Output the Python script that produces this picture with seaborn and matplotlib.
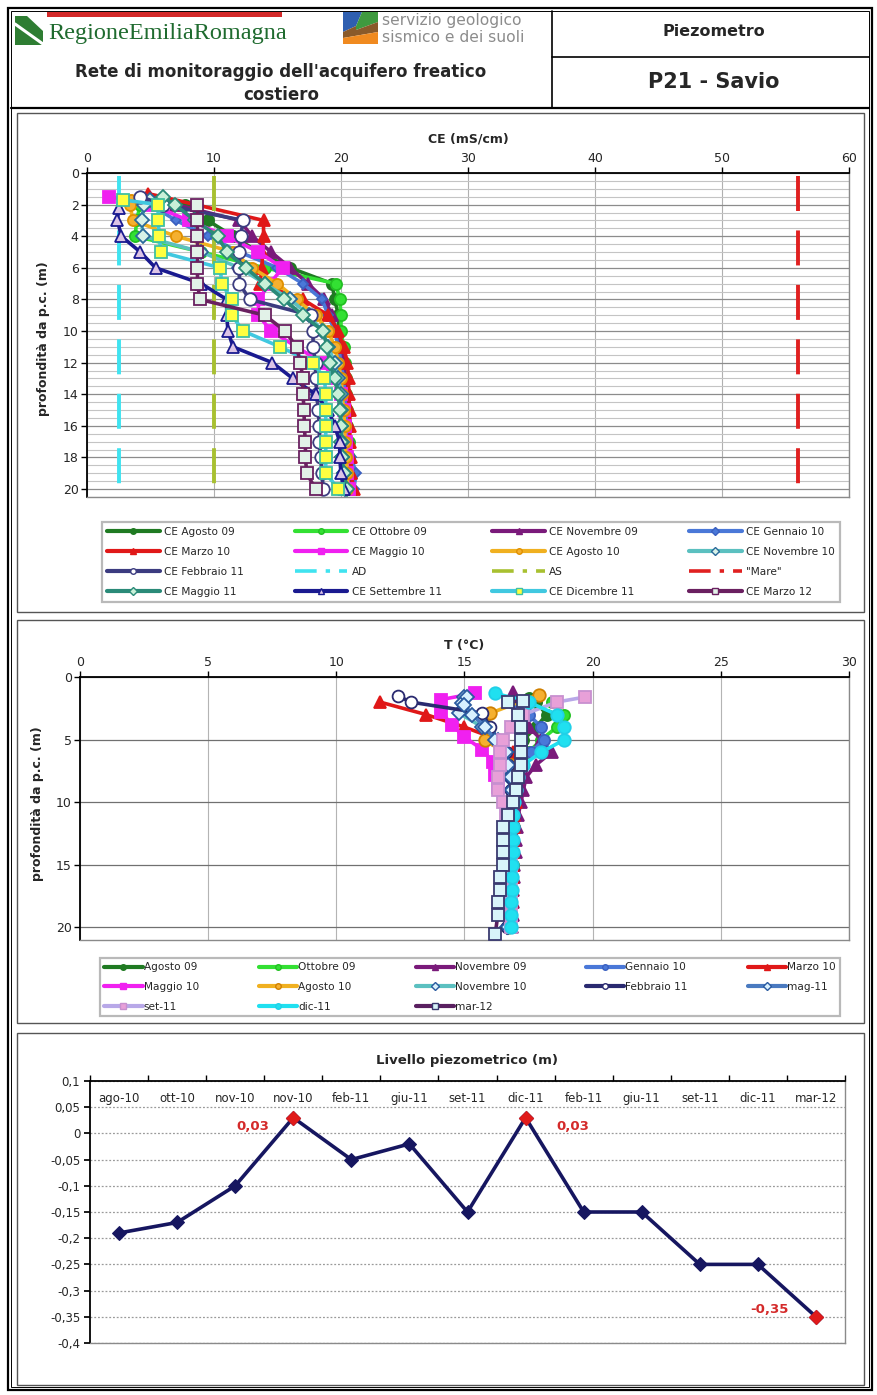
import numpy as np
import matplotlib
matplotlib.use("Agg")
import matplotlib.pyplot as plt
import seaborn as sns
from matplotlib.lines import Line2D
from matplotlib.patches import Rectangle, Polygon
from matplotlib.ticker import MultipleLocator, FuncFormatter

sns.set_theme(style="white")
plt.rcParams["font.family"] = ["DejaVu Sans"]

# ---------------------------------------------------------------- data
# Electrical conductivity profiles (mS/cm) versus depth (m)
CE_LABELS = ["CE Agosto 09", "CE Ottobre 09", "CE Novembre 09", "CE Gennaio 10",
             "CE Marzo 10", "CE Maggio 10", "CE Agosto 10", "CE Novembre 10",
             "CE Febbraio 11", "AD", "AS", '"Mare"',
             "CE Maggio 11", "CE Settembre 11", "CE Dicembre 11", "CE Marzo 12"]

ce_agosto09_d = [2, 3, 4, 5, 6, 7, 8, 9, 10, 11, 12, 13, 14, 15, 16, 17, 18, 19, 20]
ce_agosto09 = [7.7, 9.5, 11.5, 13.5, 16.0, 19.3, 19.5, 19.8, 19.8, 20.0, 20.1, 20.2, 20.3, 20.3, 20.4, 20.4, 20.5, 20.5, 20.6]
ce_ottobre09_d = [1.7, 2, 3, 4, 5, 6, 7, 8, 9, 10, 11, 12, 13, 14, 15, 16, 17, 18, 19, 20]
ce_ottobre09 = [4.5, 4.2, 3.9, 3.8, 9.0, 14.0, 19.6, 19.9, 20.0, 20.0, 20.2, 20.3, 20.4, 20.4, 20.5, 20.5, 20.6, 20.6, 20.7, 20.7]
ce_novembre09_d = [1.5, 2, 3, 4, 5, 6, 7, 8, 9, 10, 11, 12, 13, 14, 15, 16, 17, 18, 19, 20]
ce_novembre09 = [5.0, 7.0, 12.0, 13.0, 14.5, 16.0, 17.4, 18.7, 19.3, 19.6, 20.0, 20.2, 20.3, 20.4, 20.5, 20.5, 20.6, 20.7, 20.8, 20.8]
ce_gennaio10_d = [1.7, 2, 3, 4, 5, 6, 7, 8, 9, 10, 11, 12, 13, 14, 15, 16, 17, 18, 19, 20]
ce_gennaio10 = [4.5, 5.0, 7.0, 9.5, 12.0, 15.0, 17.0, 18.5, 19.0, 19.5, 19.8, 20.0, 20.2, 20.3, 20.4, 20.5, 20.6, 20.8, 21.2, 21.0]
ce_marzo10_d = [1.3, 3, 4, 5, 6, 7, 8, 9, 10, 11, 12, 13, 14, 15, 16, 17, 18, 19, 20]
ce_marzo10 = [4.8, 13.9, 13.9, 13.8, 13.8, 13.6, 17.0, 19.0, 19.8, 20.2, 20.5, 20.6, 20.6, 20.7, 20.7, 20.7, 20.8, 20.8, 21.0]
ce_maggio10_d = [1.5, 2, 3, 4, 5, 6, 7, 8, 9, 10, 11, 12, 13, 14, 15, 16, 17, 18, 19, 20]
ce_maggio10 = [1.7, 5.0, 8.0, 11.0, 13.5, 15.4, 14.4, 13.5, 13.5, 14.5, 16.5, 18.5, 19.5, 20.0, 20.2, 20.3, 20.4, 20.5, 20.5, 20.6]
ce_agosto10_d = [1.7, 2, 3, 4, 5, 6, 7, 8, 9, 10, 11, 12, 13, 14, 15, 16, 17, 18, 19, 20]
ce_agosto10 = [3.5, 3.4, 3.6, 7.0, 11.5, 13.0, 15.0, 16.5, 18.0, 19.0, 19.5, 19.8, 20.0, 20.1, 20.2, 20.3, 20.3, 20.4, 20.5, 20.5]
ce_novembre10_d = [1.7, 2, 3, 4, 5, 6, 7, 8, 9, 10, 11, 12, 13, 14, 15, 16, 17, 18, 19, 20]
ce_novembre10 = [5.0, 4.5, 4.3, 4.4, 9.0, 12.0, 14.0, 16.0, 17.5, 18.5, 19.0, 19.5, 19.8, 20.0, 20.0, 20.0, 20.1, 20.1, 20.2, 20.3]
ce_febbraio11_d = [1.5, 2, 3, 4, 5, 6, 7, 8, 9, 10, 11, 12, 13, 14, 15, 16, 17, 18, 19, 20]
ce_febbraio11 = [4.2, 6.0, 12.3, 12.1, 12.0, 12.0, 12.0, 12.8, 17.6, 17.8, 17.8, 18.0, 18.0, 18.1, 18.2, 18.3, 18.3, 18.4, 18.5, 18.6]
ce_maggio11_d = [1.5, 2, 3, 4, 5, 6, 7, 8, 9, 10, 11, 12, 13, 14, 15, 16, 17, 18, 19, 20]
ce_maggio11 = [6.0, 6.9, 8.5, 10.3, 11.0, 12.5, 14.0, 15.5, 17.0, 18.6, 18.9, 19.1, 19.5, 19.8, 19.9, 20.0, 20.0, 20.1, 20.2, 20.5]
ce_settembre11_d = [2.2, 3, 4, 5, 6, 7, 8, 9, 10, 11, 12, 13, 14, 15, 16, 17, 18, 19, 20]
ce_settembre11 = [2.5, 2.4, 2.7, 4.2, 5.4, 9.0, 11.0, 11.0, 11.1, 11.5, 14.6, 16.2, 18.0, 19.0, 19.5, 19.9, 19.9, 20.0, 20.2]
ce_dicembre11_d = [1.7, 2, 3, 4, 5, 6, 7, 8, 9, 10, 11, 12, 13, 14, 15, 16, 17, 18, 19, 20]
ce_dicembre11 = [2.8, 5.6, 5.6, 5.7, 5.8, 10.5, 10.6, 11.4, 11.4, 12.3, 15.2, 17.8, 18.7, 18.8, 18.8, 18.8, 18.8, 18.8, 18.8, 19.8]
ce_marzo12_d = [2, 3, 4, 5, 6, 7, 8, 9, 10, 11, 12, 13, 14, 15, 16, 17, 18, 19, 20]
ce_marzo12 = [8.7, 8.7, 8.7, 8.7, 8.7, 8.7, 8.9, 14.0, 15.6, 16.5, 16.8, 17.0, 17.0, 17.1, 17.1, 17.2, 17.2, 17.3, 18.0]

# Reference conductivities (mS/cm) and the depth span they are drawn over
AD_VALUE = 2.5
AS_VALUE = 10.0
MARE_VALUE = 56.0
REF_DEPTHS = [0.2, 20.4]

# Temperature profiles (°C) versus depth (m)
T_LABELS = ["Agosto 09", "Ottobre 09", "Novembre 09", "Gennaio 10", "Marzo 10",
            "Maggio 10", "Agosto 10", "Novembre 10", "Febbraio 11", "mag-11",
            "set-11", "dic-11", "mar-12"]

t_agosto09_d = [1.7, 2, 3, 4, 5, 6, 7, 8, 9, 10, 11, 12, 13, 14, 15, 16, 17, 18, 19, 20]
t_agosto09 = [17.5, 17.8, 18.2, 17.8, 17.3, 17.1, 17.0, 17.0, 17.0, 17.0, 16.95, 16.95, 16.9, 16.9, 16.9, 16.85, 16.85, 16.8, 16.8, 16.8]
t_ottobre09_d = [2, 3, 4, 5, 6, 7, 8, 9, 10, 11, 12, 13, 14, 15, 16, 17, 18, 19, 20]
t_ottobre09 = [18.4, 18.9, 18.6, 18.0, 17.5, 17.2, 17.1, 17.0, 17.0, 16.95, 16.9, 16.9, 16.9, 16.85, 16.85, 16.8, 16.8, 16.8, 16.8]
t_novembre09_d = [1.2, 2, 3, 4, 5, 6, 7, 8, 9, 10, 11, 12, 13, 14, 15, 16, 17, 18, 19, 20]
t_novembre09 = [16.9, 17.0, 17.2, 17.5, 18.0, 18.4, 17.8, 17.4, 17.3, 17.2, 17.1, 17.05, 17.0, 17.0, 16.95, 16.95, 16.9, 16.9, 16.9, 16.85]
t_gennaio10_d = [2, 3, 4, 5, 6, 7, 8, 9, 10, 11, 12, 13, 14, 15, 16, 17, 18, 19, 20]
t_gennaio10 = [17.0, 17.5, 18.0, 18.1, 17.6, 17.2, 17.1, 17.0, 16.95, 16.9, 16.9, 16.9, 16.85, 16.85, 16.8, 16.8, 16.8, 16.8, 16.8]
t_marzo10_d = [2, 3, 4, 5, 6, 7, 8, 9, 10, 11, 12, 13, 14, 15, 16, 17, 18, 19, 20]
t_marzo10 = [11.7, 13.5, 15.0, 16.3, 16.9, 17.0, 17.0, 17.0, 17.0, 16.95, 16.95, 16.9, 16.9, 16.9, 16.9, 16.85, 16.85, 16.8, 16.8]
t_maggio10_d = [1.3, 1.8, 2.8, 3.8, 4.8, 5.8, 6.8, 7.8, 8.8]
t_maggio10 = [15.4, 14.1, 14.1, 14.5, 15.0, 15.7, 16.1, 16.2, 16.3]
t_agosto10_d = [1.4, 2.9, 4, 5, 6, 7, 8, 9, 10, 11, 12, 13, 14, 15, 16, 17, 18, 19, 20]
t_agosto10 = [17.9, 16.0, 15.9, 15.8, 16.5, 16.8, 16.9, 16.9, 16.9, 16.85, 16.85, 16.8, 16.8, 16.8, 16.75, 16.75, 16.7, 16.7, 16.7]
t_novembre10_d = [1.6, 2.1, 2.9, 4, 5, 6, 7, 8, 9, 10, 11, 12, 13, 14, 15, 16, 17, 18, 19, 20]
t_novembre10 = [15.0, 14.9, 14.8, 15.7, 16.3, 16.6, 16.7, 16.75, 16.8, 16.8, 16.8, 16.8, 16.75, 16.75, 16.75, 16.7, 16.7, 16.7, 16.65, 16.65]
t_febbraio11_d = [1.5, 2, 2.9, 4, 5, 6, 7, 8, 9, 10, 11, 12, 13, 14, 15, 16, 17, 18, 19, 20]
t_febbraio11 = [12.4, 12.9, 15.7, 16.0, 16.3, 16.6, 16.7, 16.8, 16.8, 16.8, 16.8, 16.8, 16.8, 16.75, 16.75, 16.7, 16.7, 16.7, 16.7, 16.65]
t_mag11_d = [1.6, 2.2, 3, 4, 5, 6, 7, 8, 9, 10, 11, 12, 13, 14, 15, 16, 17, 18, 19, 20]
t_mag11 = [15.1, 15.0, 15.3, 15.8, 16.2, 16.6, 16.7, 16.8, 16.85, 16.85, 16.85, 16.85, 16.8, 16.8, 16.8, 16.8, 16.75, 16.75, 16.7, 16.7]
t_set11_d = [1.6, 2, 3, 4, 5, 6, 7, 8, 9, 10, 11, 12, 13, 14, 15, 16, 17, 18, 19, 20]
t_set11 = [19.7, 18.6, 17.3, 16.8, 16.5, 16.4, 16.4, 16.3, 16.3, 16.5, 16.6, 16.7, 16.75, 16.75, 16.8, 16.8, 16.8, 16.8, 16.8, 16.8]
t_dic11_d = [1.3, 2, 3, 4, 5, 6, 7, 8, 9, 10, 11, 12, 13, 14, 15, 16, 17, 18, 19, 20]
t_dic11 = [16.2, 17.5, 18.6, 18.9, 18.9, 18.0, 17.3, 17.1, 17.0, 16.95, 16.9, 16.9, 16.9, 16.9, 16.85, 16.85, 16.85, 16.8, 16.8, 16.8]
t_mar12_d = [1.9, 2, 3, 4, 5, 6, 7, 8, 9, 10, 11, 12, 13, 14, 15, 16, 17, 18, 19, 20.5]
t_mar12 = [17.3, 16.7, 17.1, 17.2, 17.2, 17.2, 17.2, 17.1, 17.0, 16.9, 16.7, 16.5, 16.5, 16.5, 16.5, 16.4, 16.4, 16.3, 16.3, 16.2]

# Piezometric level (m)
LEVEL_DATES = ["ago-10", "ott-10", "nov-10", "nov-10", "feb-11", "giu-11", "set-11",
               "dic-11", "feb-11", "giu-11", "set-11", "dic-11", "mar-12"]
LEVEL_VALUES = [-0.19, -0.17, -0.10, 0.03, -0.05, -0.02, -0.15, 0.03, -0.15, -0.15,
                -0.25, -0.25, -0.35]

# ---------------------------------------------------------------- styles
# (line colour, marker, marker face, marker edge, marker size)
CE_STYLE = {
    "CE Agosto 09": ("#1f7a22", "o", "#1f7a22", "#1f7a22", 8),
    "CE Ottobre 09": ("#33e033", "o", "#33e033", "#22c022", 8),
    "CE Novembre 09": ("#7a1a7a", "^", "#7a1a7a", "#7a1a7a", 8),
    "CE Gennaio 10": ("#4a78d8", "D", "#4a78d8", "#3a60c0", 5.5),
    "CE Marzo 10": ("#e01818", "^", "#e01818", "#e01818", 8.5),
    "CE Maggio 10": ("#f020f0", "s", "#f020f0", "#f020f0", 8.5),
    "CE Agosto 10": ("#f0b020", "o", "#f5b030", "#e09000", 8),
    "CE Novembre 10": ("#5bc0c0", "D", "#d8f2e8", "#2a6a9a", 7),
    "CE Febbraio 11": ("#3c3c80", "o", "#ffffff", "#3c3c80", 9),
    "CE Maggio 11": ("#2a8a78", "D", "#c8f0d8", "#2a8a78", 7.5),
    "CE Settembre 11": ("#1a1a90", "^", "#dcc4e6", "#1a1a90", 9),
    "CE Dicembre 11": ("#40c8e0", "s", "#ffff40", "#40c0a0", 9),
    "CE Marzo 12": ("#6a2060", "s", "#e2f2e8", "#6a2060", 9),
}
REF_STYLE = {"AD": "#3fe3f0", "AS": "#a8c030", '"Mare"': "#e02020"}

T_STYLE = {
    "Agosto 09": ("#1f7a22", "o", "#1f7a22", "#1f7a22", 8),
    "Ottobre 09": ("#33e033", "o", "#33e033", "#22c022", 8),
    "Novembre 09": ("#7a1a7a", "^", "#7a1a7a", "#7a1a7a", 8),
    "Gennaio 10": ("#4a78d8", "o", "#4a78d8", "#3a60c0", 8),
    "Marzo 10": ("#e01818", "^", "#e01818", "#e01818", 8.5),
    "Maggio 10": ("#f020f0", "s", "#f020f0", "#f020f0", 9),
    "Agosto 10": ("#f0b020", "o", "#f5b030", "#d08000", 9),
    "Novembre 10": ("#5bc0c0", "D", "#d8f0fa", "#2a5aa0", 7.5),
    "Febbraio 11": ("#2a2a70", "o", "#ffffff", "#2a2a70", 8.5),
    "mag-11": ("#4a7ac0", "D", "#d8f0ff", "#2a5aa0", 7.5),
    "set-11": ("#b8a8e8", "s", "#e8a0d8", "#c890d0", 9),
    "dic-11": ("#20e0f0", "o", "#20e0f0", "#20d0e8", 9),
    "mar-12": ("#5a2060", "s", "#d8f4fa", "#3a3a70", 9),
}

W, H = 878, 1395
fig = plt.figure(figsize=(W / 100, H / 100), dpi=100)
fig.patch.set_facecolor("white")


def px_axes(x0, y0, x1, y1, z=1):
    return fig.add_axes([x0 / W, 1 - y1 / H, (x1 - x0) / W, (y1 - y0) / H], zorder=z)


def px_box(x0, y0, x1, y1):
    return (x0 / W, 1 - y1 / H, (x1 - x0) / W, (y1 - y0) / H)


# ---------------------------------------------------------------- page frame
bg = px_axes(0, 0, W, H, z=0)
bg.set_xlim(0, W)
bg.set_ylim(H, 0)
bg.axis("off")

bg.add_patch(Rectangle((8, 8), 864, 1382, fill=False, ec="black", lw=1.6))
bg.add_patch(Rectangle((11, 11), 858, 1376, fill=False, ec="black", lw=0.7))
bg.plot([552, 552], [11, 108], color="black", lw=1.2)
bg.plot([552, 869], [57, 57], color="black", lw=1.2)
bg.plot([11, 869], [108, 108], color="black", lw=1.6)
for (x0, y0, x1, y1) in [(17, 113, 864, 612), (17, 620, 864, 1023), (17, 1033, 864, 1385)]:
    bg.add_patch(Rectangle((x0, y0), x1 - x0, y1 - y0, fill=False, ec="#555555", lw=1.0))

# Regione Emilia-Romagna logo
bg.add_patch(Rectangle((47, 12), 235, 5, color="#d42a2a", lw=0))
bg.add_patch(Polygon([(15, 16), (27, 16), (43, 31), (43, 45), (15, 45)], closed=True,
                     color="#2e7d32", lw=0))
bg.plot([15, 43], [24, 44], color="white", lw=2.2)
bg.text(48, 34, "RegioneEmiliaRomagna", family="Liberation Serif", fontsize=17.5,
        color="#1f6b2f", va="center", ha="left")

# Geological survey logo
bg.add_patch(Polygon([(343, 12), (362, 12), (356, 26), (343, 32)], closed=True, color="#2f5fb0", lw=0))
bg.add_patch(Polygon([(362, 12), (378, 12), (378, 22), (356, 30), (356, 26)], closed=True, color="#3f9a3f", lw=0))
bg.add_patch(Polygon([(343, 32), (356, 26), (356, 30), (378, 22), (378, 32), (343, 38)], closed=True, color="#8a5a2a", lw=0))
bg.add_patch(Polygon([(343, 38), (378, 32), (378, 44), (343, 44)], closed=True, color="#f08a20", lw=0))
bg.text(382, 20, "servizio geologico", fontsize=11.2, color="#8c8c8c", va="center", ha="left")
bg.text(382, 38, "sismico e dei suoli", fontsize=11.2, color="#8c8c8c", va="center", ha="left")

bg.text(281, 72, "Rete di monitoraggio dell'acquifero freatico", fontsize=12, fontweight="bold",
        va="center", ha="center")
bg.text(281, 95, "costiero", fontsize=12, fontweight="bold", va="center", ha="center")
bg.text(714, 31, "Piezometro", fontsize=11.5, fontweight="bold", va="center", ha="center")
bg.text(714, 82, "P21 - Savio", fontsize=15, fontweight="bold", va="center", ha="center")


def legend_handle(color, marker, face, edge, dashed=False):
    if dashed:
        return Line2D([], [], color=color, lw=2.6, linestyle=(0, (6, 2.5, 1.2, 2.5)))
    return Line2D([], [], color=color, lw=3, marker=marker, markersize=4,
                  markerfacecolor=face, markeredgecolor=edge, markeredgewidth=1)


def draw_profile(ax, values, depths, style, z):
    color, marker, face, edge, ms = style
    sns.lineplot(x=values, y=depths, ax=ax, sort=False, estimator=None, color=color, lw=2.6,
                 marker=marker, markersize=ms, markerfacecolor=face, markeredgecolor=edge,
                 markeredgewidth=1.3, legend=False, zorder=z)


def style_axes(ax):
    for side in ["left", "top"]:
        ax.spines[side].set_color("black")
        ax.spines[side].set_linewidth(1.3)
    for side in ["right", "bottom"]:
        ax.spines[side].set_color("#8a8a8a")
        ax.spines[side].set_linewidth(1.0)
    ax.set_facecolor("white")


# ---------------------------------------------------------------- CE panel
ax1 = px_axes(87, 173, 849, 497)
ce_series = {
    "CE Agosto 09": (ce_agosto09, ce_agosto09_d),
    "CE Ottobre 09": (ce_ottobre09, ce_ottobre09_d),
    "CE Novembre 09": (ce_novembre09, ce_novembre09_d),
    "CE Gennaio 10": (ce_gennaio10, ce_gennaio10_d),
    "CE Marzo 10": (ce_marzo10, ce_marzo10_d),
    "CE Maggio 10": (ce_maggio10, ce_maggio10_d),
    "CE Agosto 10": (ce_agosto10, ce_agosto10_d),
    "CE Novembre 10": (ce_novembre10, ce_novembre10_d),
    "CE Febbraio 11": (ce_febbraio11, ce_febbraio11_d),
    "CE Maggio 11": (ce_maggio11, ce_maggio11_d),
    "CE Settembre 11": (ce_settembre11, ce_settembre11_d),
    "CE Dicembre 11": (ce_dicembre11, ce_dicembre11_d),
    "CE Marzo 12": (ce_marzo12, ce_marzo12_d),
}
ref_values = {"AD": AD_VALUE, "AS": AS_VALUE, '"Mare"': MARE_VALUE}

z = 3
for name in CE_LABELS:
    if name in ref_values:
        sns.lineplot(x=[ref_values[name]] * len(REF_DEPTHS), y=REF_DEPTHS, ax=ax1, sort=False,
                     estimator=None, color=REF_STYLE[name], lw=2.8, linestyle=(0, (9, 5)),
                     legend=False, zorder=z)
    else:
        vals, deps = ce_series[name]
        draw_profile(ax1, vals, deps, CE_STYLE[name], z)
    z += 1

ax1.set_xlim(0, 60)
ax1.set_ylim(20.5, 0)
ax1.set_xticks(range(0, 61, 10))
ax1.set_yticks(range(0, 21, 2))
ax1.yaxis.set_minor_locator(MultipleLocator(0.5))
ax1.xaxis.tick_top()
ax1.tick_params(axis="both", which="major", labelsize=9, length=4, width=1, color="black",
                direction="out", pad=2)
ax1.tick_params(axis="y", which="minor", length=0)
ax1.tick_params(axis="x", which="both", bottom=False, top=True)
ax1.tick_params(axis="y", which="both", left=True, right=False)
ax1.grid(True, axis="y", which="minor", color="#c4c4c4", lw=0.8)
ax1.grid(True, axis="y", which="major", color="#8c8c8c", lw=0.9)
ax1.grid(True, axis="x", which="major", color="#b0b0b0", lw=0.8)
ax1.set_axisbelow(True)
style_axes(ax1)
ax1.set_xlabel("")
ax1.set_ylabel("profondità da p.c. (m)", fontsize=9, fontweight="bold")
ax1.yaxis.set_label_coords(-0.048, 0.49)
ax1.set_title("CE (mS/cm)", fontsize=9, fontweight="bold", pad=22)

ce_handles = []
for name in CE_LABELS:
    if name in ref_values:
        ce_handles.append(legend_handle(REF_STYLE[name], None, None, None, dashed=True))
    else:
        c, m, f, e, _ = CE_STYLE[name]
        ce_handles.append(legend_handle(c, m, f, e))
# row-wise ordering for a 4 x 4 legend
order = [r * 4 + c for c in range(4) for r in range(4)]
leg1 = fig.legend([ce_handles[i] for i in order], [CE_LABELS[i] for i in order],
                  loc="upper left", bbox_to_anchor=px_box(97, 517, 845, 598),
                  mode="expand", ncol=4, fontsize=7.6, handlelength=5.0, handletextpad=0.4,
                  labelspacing=0.95, borderpad=0.45, columnspacing=1.0, frameon=True,
                  fancybox=False, edgecolor="#a8a8a8")
leg1.get_frame().set_linewidth(1.6)

# ---------------------------------------------------------------- T panel
ax2 = px_axes(80, 677, 849, 940)
t_series = {
    "Agosto 09": (t_agosto09, t_agosto09_d),
    "Ottobre 09": (t_ottobre09, t_ottobre09_d),
    "Novembre 09": (t_novembre09, t_novembre09_d),
    "Gennaio 10": (t_gennaio10, t_gennaio10_d),
    "Marzo 10": (t_marzo10, t_marzo10_d),
    "Maggio 10": (t_maggio10, t_maggio10_d),
    "Agosto 10": (t_agosto10, t_agosto10_d),
    "Novembre 10": (t_novembre10, t_novembre10_d),
    "Febbraio 11": (t_febbraio11, t_febbraio11_d),
    "mag-11": (t_mag11, t_mag11_d),
    "set-11": (t_set11, t_set11_d),
    "dic-11": (t_dic11, t_dic11_d),
    "mar-12": (t_mar12, t_mar12_d),
}
z = 3
for name in T_LABELS:
    vals, deps = t_series[name]
    draw_profile(ax2, vals, deps, T_STYLE[name], z)
    z += 1

ax2.set_xlim(0, 30)
ax2.set_ylim(21, 0)
ax2.set_xticks(range(0, 31, 5))
ax2.set_yticks(range(0, 21, 5))
ax2.xaxis.tick_top()
ax2.tick_params(axis="both", which="major", labelsize=9, length=4, width=1, color="black",
                direction="out", pad=2)
ax2.tick_params(axis="x", which="both", bottom=False, top=True)
ax2.tick_params(axis="y", which="both", left=True, right=False)
ax2.grid(True, axis="y", color="#707070", lw=0.9)
ax2.grid(True, axis="x", color="#b4b4b4", lw=0.8)
ax2.set_axisbelow(True)
style_axes(ax2)
ax2.set_xlabel("")
ax2.set_ylabel("profondità da p.c. (m)", fontsize=9, fontweight="bold")
ax2.yaxis.set_label_coords(-0.047, 0.52)
ax2.set_title("T (°C)", fontsize=9, fontweight="bold", pad=20)

t_handles = []
for name in T_LABELS:
    c, m, f, e, _ = T_STYLE[name]
    t_handles.append(legend_handle(c, m, f, e))
# row-wise ordering for a 5-column legend holding 13 entries
t_order = [0, 5, 10, 1, 6, 11, 2, 7, 12, 3, 8, 4, 9]
leg2 = fig.legend([t_handles[i] for i in t_order], [T_LABELS[i] for i in t_order],
                  loc="upper left", bbox_to_anchor=px_box(95, 953, 845, 1013),
                  mode="expand", ncol=5, fontsize=7.6, handlelength=3.6, handletextpad=0.1,
                  labelspacing=0.9, borderpad=0.4, columnspacing=1.0, frameon=True,
                  fancybox=False, edgecolor="#a8a8a8")
leg2.get_frame().set_linewidth(1.6)

# ---------------------------------------------------------------- level panel
ax3 = px_axes(90, 1081, 845, 1343)
pos = np.arange(len(LEVEL_VALUES))
sns.lineplot(x=pos, y=LEVEL_VALUES, ax=ax3, color="#161660", lw=2.6, marker="D", markersize=7,
             markerfacecolor="#161660", markeredgecolor="#161660", legend=False, zorder=3)

vals = np.array(LEVEL_VALUES)
extreme = np.isclose(vals, vals.max()) | np.isclose(vals, vals.min())
sns.scatterplot(x=pos[extreme], y=vals[extreme], ax=ax3, marker="D", s=55, color="#e01a1a",
                edgecolor="#e01a1a", linewidth=0.5, legend=False, zorder=4)

label_offsets = {3: (-17, -6, "right"), 7: (22, -6, "left"), 12: (-20, 5, "right")}
for i in np.where(extreme)[0]:
    dx, dy, ha = label_offsets.get(i, (0, 10, "center"))
    ax3.annotate(f"{vals[i]:.2f}".replace(".", ","), (pos[i], vals[i]), xytext=(dx, dy),
                 textcoords="offset points", ha=ha, va="center", fontsize=9.5,
                 fontweight="bold", color="#d42a2a", zorder=5)


def comma_fmt(v, _):
    v = round(v, 2) + 0.0
    if abs(v) < 1e-9:
        v = 0.0
    return ("%g" % v).replace(".", ",")


ax3.set_xlim(-0.5, len(LEVEL_VALUES) - 0.5)
ax3.set_ylim(-0.4, 0.1)
ax3.set_yticks(np.round(np.arange(-0.4, 0.1001, 0.05), 2))
ax3.yaxis.set_major_formatter(FuncFormatter(comma_fmt))
ax3.set_xticks(pos)
ax3.set_xticklabels(LEVEL_DATES)
ax3.set_xticks(np.arange(-0.5, len(LEVEL_VALUES), 1.0), minor=True)
ax3.xaxis.tick_top()
ax3.tick_params(axis="x", which="major", length=0, labelsize=8.5, pad=-17)
ax3.tick_params(axis="x", which="minor", length=4, color="black", top=True, bottom=False)
ax3.tick_params(axis="y", which="major", labelsize=8.5, length=4, color="black", left=True,
                right=False, pad=3)
ax3.grid(True, axis="y", color="#9a9a9a", lw=0.9, linestyle=(0, (1.5, 1.5)))
ax3.set_axisbelow(True)
style_axes(ax3)
ax3.set_xlabel("")
ax3.set_ylabel("")
ax3.set_title("Livello piezometrico (m)", fontsize=9.5, fontweight="bold", pad=12)

fig.savefig("out.png", dpi=100, facecolor="white")
